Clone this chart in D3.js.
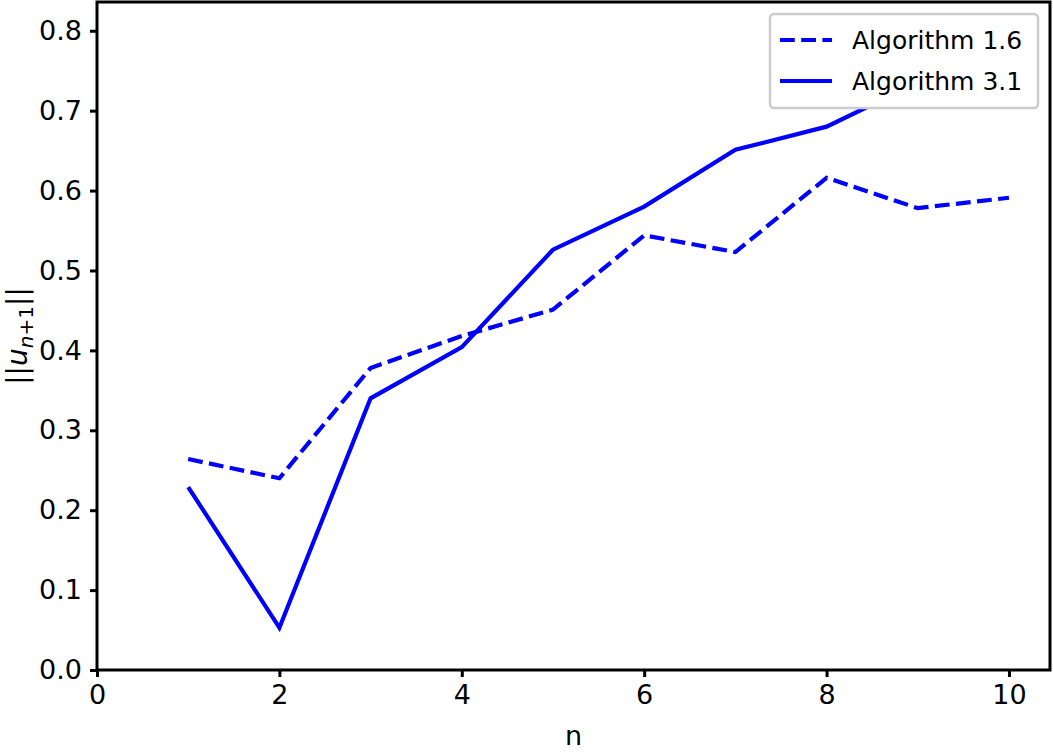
<!DOCTYPE html>
<html>
<head>
<meta charset="utf-8">
<script src="https://cdn.jsdelivr.net/npm/d3@7"></script>
<style>
  body { margin: 0; background: #fff; }
  text { font-family: "DejaVu Sans", sans-serif; }
</style>
</head>
<body>
<div id="chart"></div>
<script>
// values
const nValues = [1, 2, 3, 4, 5, 6, 7, 8, 9, 10];
const alg16 = [0.264, 0.240, 0.378, 0.418, 0.451, 0.544, 0.523, 0.616, 0.578, 0.591];
const alg31 = [0.229, 0.053, 0.340, 0.404, 0.526, 0.580, 0.651, 0.680, 0.735, 0.780];
const xTicks = [0, 2, 4, 6, 8, 10];
const yTicks = [0.0, 0.1, 0.2, 0.3, 0.4, 0.5, 0.6, 0.7, 0.8];
const seriesNames = ["Algorithm 1.6", "Algorithm 3.1"];

const margin = { top: 2, right: 3, bottom: 83, left: 97 };
const width = 1053 - margin.left - margin.right;
const height = 753 - margin.top - margin.bottom;

const svg = d3.select("#chart").append("svg")
    .attr("width", 1053)
    .attr("height", 753);

const g = svg.append("g")
    .attr("transform", `translate(${margin.left},${margin.top})`);

const x = d3.scaleLinear().domain([0, 10.45]).range([0, width]);
const y = d3.scaleLinear().domain([0, 0.836]).range([height, 0]);

g.append("clipPath").attr("id", "plotclip")
    .append("rect").attr("width", width).attr("height", height);

// axes
const xAxis = g.append("g")
    .attr("transform", `translate(0,${height})`)
    .call(d3.axisBottom(x).tickValues(xTicks).tickFormat(d3.format("d")).tickSize(7).tickPadding(8));
const yAxis = g.append("g")
    .call(d3.axisLeft(y).tickValues(yTicks).tickFormat(d3.format(".1f")).tickSize(7).tickPadding(8));

[xAxis, yAxis].forEach(a => {
    a.select(".domain").remove();
    a.selectAll(".tick line").attr("stroke", "#000").attr("stroke-width", 3);
    a.selectAll(".tick text")
        .attr("fill", "#000")
        .style("font-size", "27px");
});

// lines
const line = d3.line()
    .x((d, i) => x(nValues[i]))
    .y(d => y(d));

const plot = g.append("g").attr("clip-path", "url(#plotclip)");
plot.append("path")
    .datum(alg16)
    .attr("d", line)
    .attr("fill", "none")
    .attr("stroke", "#0000ff")
    .attr("stroke-width", 4.2)
    .attr("stroke-dasharray", "14.8,6.4");
plot.append("path")
    .datum(alg31)
    .attr("d", line)
    .attr("fill", "none")
    .attr("stroke", "#0000ff")
    .attr("stroke-width", 4.2);

// frame
g.append("rect")
    .attr("width", width)
    .attr("height", height)
    .attr("fill", "none")
    .attr("stroke", "#000")
    .attr("stroke-width", 3);

// axis labels
svg.append("text")
    .attr("x", margin.left + width / 2)
    .attr("y", 745)
    .attr("text-anchor", "middle")
    .style("font-size", "27px")
    .text("n");

const yl = svg.append("text")
    .attr("transform", `translate(27,${margin.top + height / 2}) rotate(-90)`)
    .attr("text-anchor", "middle")
    .style("font-size", "28px");
yl.append("tspan").text("||");
yl.append("tspan").style("font-style", "italic").text("u");
yl.append("tspan").attr("dy", 6).style("font-size", "20px").style("font-style", "italic").text("n");
yl.append("tspan").attr("dy", 0).style("font-size", "20px").text("+1");
yl.append("tspan").attr("dy", -6).text("||");

// legend
const legend = svg.append("g").attr("transform", "translate(770,14)");
legend.append("rect")
    .attr("width", 268)
    .attr("height", 94)
    .attr("rx", 4)
    .attr("fill", "#fff")
    .attr("stroke", "#cccccc")
    .attr("stroke-width", 2.5);
seriesNames.forEach((name, i) => {
    const ly = 26 + i * 41;
    legend.append("line")
        .attr("x1", 10).attr("x2", 62)
        .attr("y1", ly).attr("y2", ly)
        .attr("stroke", "#0000ff")
        .attr("stroke-width", 4.2)
        .attr("stroke-dasharray", i === 0 ? "14.8,6.4" : null);
    legend.append("text")
        .attr("x", 82)
        .attr("y", ly + 9)
        .style("font-size", "25px")
        .text(name);
});
</script>
</body>
</html>
